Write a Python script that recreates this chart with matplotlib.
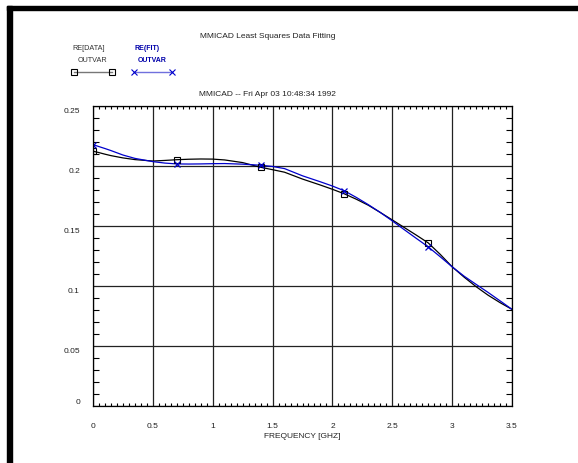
import numpy as np
import matplotlib
matplotlib.use("Agg")
import matplotlib.pyplot as plt
from matplotlib.patches import Rectangle
from matplotlib.lines import Line2D
from matplotlib.ticker import MultipleLocator
import matplotlib.transforms as mtransforms

plt.rcParams['font.family'] = ['Liberation Sans', 'DejaVu Sans']

# measured points (markers)
freq_pts = [0.0, 0.7, 1.4, 2.1, 2.8]
data_pts = [0.212, 0.205, 0.1986, 0.1765, 0.1357]
fit_pts = [0.2175, 0.2014, 0.2003, 0.179, 0.1324]

# smooth curves
freq_curve = [0.0, 0.05, 0.1, 0.15, 0.25, 0.35, 0.5, 0.6, 0.7, 0.8, 0.9, 1.0,
              1.1, 1.25, 1.4, 1.5, 1.6, 1.75, 1.9, 2.0, 2.1, 2.2, 2.3, 2.4,
              2.5, 2.6, 2.7, 2.8, 2.9, 3.0, 3.1, 3.2, 3.3, 3.4, 3.5]
data_curve = [0.212, 0.2108, 0.2095, 0.2083, 0.2064, 0.205, 0.2038, 0.2043,
              0.2049, 0.2053, 0.2055, 0.2054, 0.2047, 0.2025, 0.1986, 0.1966,
              0.1945, 0.1888, 0.1838, 0.1803, 0.1765, 0.172, 0.167, 0.161,
              0.1548, 0.1485, 0.1422, 0.1357, 0.1262, 0.1158, 0.1072, 0.0993,
              0.0922, 0.086, 0.0804]
fit_curve = [0.2175, 0.2158, 0.2142, 0.2125, 0.2088, 0.2060, 0.2033, 0.2021,
             0.2014, 0.2013, 0.2014, 0.2016, 0.2017, 0.2012, 0.2003, 0.1993,
             0.1975, 0.1915, 0.1865, 0.183, 0.179, 0.1735, 0.1675, 0.161,
             0.154, 0.1467, 0.1395, 0.1324, 0.1242, 0.1158, 0.108, 0.1012,
             0.0945, 0.0875, 0.0804]

xtick_vals = [0, 0.5, 1, 1.5, 2, 2.5, 3, 3.5]
xtick_labels = ['0', '0.5', '1', '1.5', '2', '2.5', '3', '3.5']
ytick_vals = [0, 0.05, 0.1, 0.15, 0.2, 0.25]
ytick_labels = ['0', '0.05', '0.1', '0.15', '0.2', '0.25']

W, H = 578, 463
fig = plt.figure(figsize=(W / 100, H / 100), dpi=100)
ax = fig.add_axes([93 / W, 1 - 406 / H, 419 / W, 300.5 / H])

blue = '#0000cc'
ax.plot(freq_curve, data_curve, color='black', lw=0.9)
ax.plot(freq_curve, fit_curve, color=blue, lw=0.9)
ax.plot(freq_pts, data_pts, 's', mfc='none', mec='black', ms=4.5, mew=0.8)
ax.plot(freq_pts, fit_pts, 'x', color=blue, ms=5, mew=0.9)

ax.set_xlim(0, 3.5)
ax.set_ylim(0, 0.25)
ax.set_xticks(xtick_vals)
ax.set_xticklabels(xtick_labels)
ax.set_yticks(ytick_vals)
ax.xaxis.set_minor_locator(MultipleLocator(0.05))
ax.yaxis.set_minor_locator(MultipleLocator(0.01))
ax.grid(True, which='major', color='#222222', lw=0.9)
ax.tick_params(which='major', length=0, labelsize=6, colors='#222222')
ax.tick_params(axis='x', which='major', pad=12.5)
ax.tick_params(axis='y', which='major', labelleft=False)
ax.tick_params(axis='x', which='minor', direction='in', length=2.3,
               top=True, bottom=True, width=0.8)
ax.tick_params(axis='y', which='minor', direction='in', length=4.2,
               left=True, right=True, width=0.8)
for s in ax.spines.values():
    s.set_linewidth(0.9)

# y tick labels, placed like the original (slightly below the grid lines)
for v, lab in zip(ytick_vals, ytick_labels):
    dy = 3 if v == 0 else -5.5
    off = mtransforms.ScaledTranslation(-13 / 100, dy / 100, fig.dpi_scale_trans)
    ax.text(0, v, lab, transform=ax.get_yaxis_transform() + off,
            ha='right', va='center', fontsize=6, color='#222222')

ax.set_xlabel('FREQUENCY [GHZ]', fontsize=6, labelpad=2, color='#222222')

fig.text(268 / W, 1 - 37 / H, 'MMICAD Least Squares Data Fitting',
         ha='center', va='center', fontsize=6, color='#222222')
fig.text(267 / W, 1 - 94 / H, 'MMICAD -- Fri Apr 03 10:48:34 1992',
         ha='center', va='center', fontsize=6, color='#222222')

# legend block
fig.text(89 / W, 1 - 49 / H, 'RE[DATA]', ha='center', va='center',
         fontsize=5.2, color='#333333')
fig.text(92 / W, 1 - 61 / H, 'OUTVAR', ha='center', va='center',
         fontsize=5.2, color='#333333')
fig.add_artist(Line2D([74 / W, 111.5 / W], [1 - 71.5 / H] * 2, color='#777777',
                      lw=1, marker='s', mfc='none', mec='black', ms=3.8, mew=0.8,
                      transform=fig.transFigure))
fig.text(147 / W, 1 - 49 / H, 'RE(FIT)', ha='center', va='center',
         fontsize=5, color='#0000aa', fontweight='bold')
fig.text(152.5 / W, 1 - 61 / H, 'OUTVAR', ha='center', va='center',
         fontsize=5, color='#0000aa', fontweight='bold')
fig.add_artist(Line2D([134 / W, 172 / W], [1 - 71.5 / H] * 2, color='#7070dd',
                      lw=1, marker='x', mec=blue, ms=4, mew=0.8,
                      transform=fig.transFigure))

# black frame on the left and top
fig.add_artist(Rectangle((7 / W, 0), 5 / W, 1 - 6 / H, color='black',
                         transform=fig.transFigure))
fig.add_artist(Rectangle((7 / W, 1 - 10 / H), 1, 4 / H, color='black',
                         transform=fig.transFigure))

fig.savefig('out.png', dpi=100)
